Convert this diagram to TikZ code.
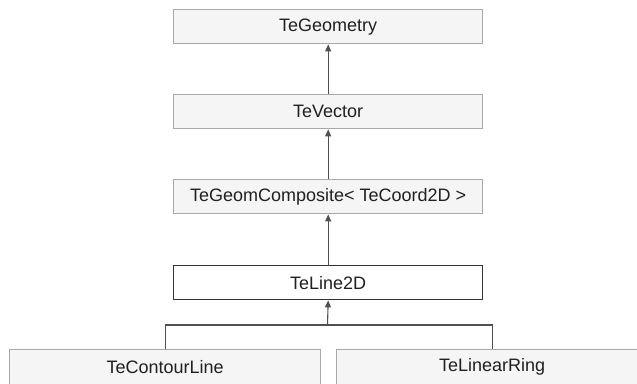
\documentclass[tikz,border=0pt]{standalone}
\usepackage{fontspec}
\setmainfont{Liberation Sans}
\usetikzlibrary{arrows.meta}
\definecolor{boxfill}{HTML}{F5F5F5}
\definecolor{boxedge}{HTML}{A8A8A8}
\definecolor{linkgray}{HTML}{505050}
\definecolor{labelgray}{HTML}{202020}
\begin{document}
\begin{tikzpicture}[x=1pt,y=-1pt,
  cls/.style={draw=boxedge, fill=boxfill, line width=1.4pt,
    minimum width=309pt, minimum height=34pt, inner sep=0pt,
    text=labelgray, font=\fontsize{18}{20}\selectfont, anchor=north west},
  focus/.style={cls, draw=black!80, fill=white},
  leaf/.style={cls, minimum width=311pt, minimum height=35pt},
  inh/.style={draw=linkgray, line width=1.1pt,
    -{Triangle[length=7pt,width=6pt]}},
  conn/.style={draw=linkgray, line width=1.1pt}]
\useasboundingbox (0,0) rectangle (637,383);
\fill[white] (0,0) rectangle (637,383);

\node[cls]   (geo)  at (173,9)   {TeGeometry};
\node[cls]   (vec)  at (173,94)  {TeVector};
\node[cls]   (comp) at (173,179) {TeGeomComposite< TeCoord2D >};
\node[focus] (line) at (173,265) {TeLine2D};
\node[leaf]  (cl)   at (9,349)   {TeContourLine};
\node[leaf]  (lr)   at (336,349) {TeLinearRing};

\draw[inh] (vec.north)  -- (geo.south);
\draw[inh] (comp.north) -- (vec.south);
\draw[inh] (line.north) -- (comp.south);

\coordinate (j) at (327.5,325);
\draw[inh]  (j) -- (line.south);
\draw[conn] (cl.north) |- (j) -| (lr.north);
\end{tikzpicture}
\end{document}
